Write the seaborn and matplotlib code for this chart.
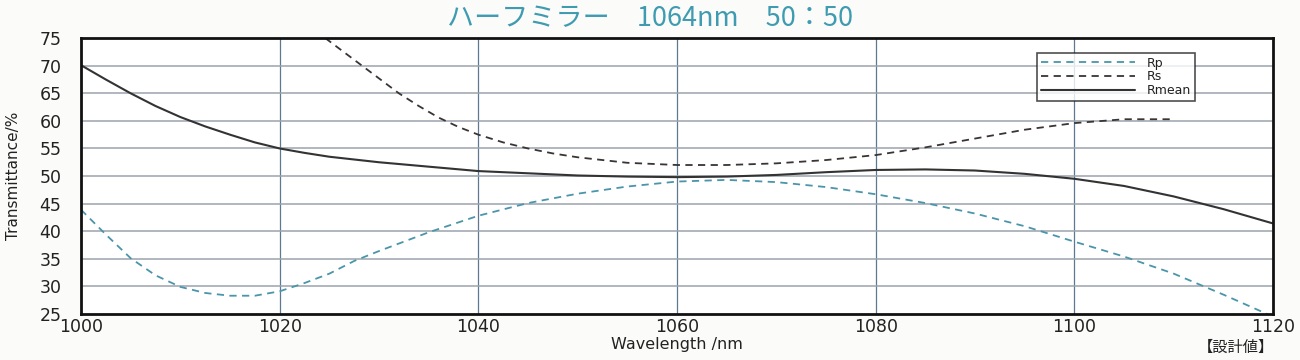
import numpy as np
import pandas as pd
import matplotlib
matplotlib.use("Agg")
import matplotlib.pyplot as plt
import seaborn as sns

# =========================
# DATA
# =========================

wavelength = [1000, 1002.5, 1005, 1007.5, 1010, 1012.5, 1015, 1017.5, 1020,
              1022.5, 1025, 1027.5, 1030, 1035, 1040, 1045, 1050, 1055,
              1060, 1065, 1070, 1075, 1080, 1085, 1090, 1095, 1100, 1105,
              1110, 1115, 1120]

rp = [43.9, 39.4, 35.1, 32.0, 29.9, 28.8, 28.3, 28.3, 29.1,
      30.6, 32.3, 34.6, 36.4, 39.8, 42.8, 45.1, 46.8, 48.1,
      49.0, 49.3, 48.9, 48.0, 46.7, 45.1, 43.2, 40.9, 38.1, 35.4,
      32.3, 28.5, 24.5]

rmean = [70.1, 67.5, 65.0, 62.7, 60.7, 59.0, 57.5, 56.1, 55.0,
         54.2, 53.5, 53.0, 52.5, 51.7, 50.9, 50.5, 50.1, 49.9,
         49.8, 49.9, 50.2, 50.7, 51.1, 51.2, 51.0, 50.4, 49.5, 48.2,
         46.3, 44.0, 41.4]

rs_wavelength = [1024.6, 1026, 1028, 1030, 1032, 1034, 1036, 1038, 1040,
                 1042.5, 1045, 1047.5, 1050, 1055, 1060, 1065, 1070, 1075,
                 1080, 1085, 1090, 1095, 1100, 1105, 1110]
rs = [75.0, 73.1, 70.4, 67.7, 65.0, 62.7, 60.6, 58.9, 57.5,
      56.1, 55.0, 54.1, 53.4, 52.4, 52.0, 52.0, 52.3, 52.9,
      53.8, 55.2, 56.8, 58.4, 59.6, 60.3, 60.3]

x_ticks = [1000, 1020, 1040, 1060, 1080, 1100, 1120]
y_ticks = [25, 30, 35, 40, 45, 50, 55, 60, 65, 70, 75]

title = "ハーフミラー　1064nm　50：50"
note = "【設計値】"

TEAL = "#3f9bb0"
DARK = "#333333"

# =========================
# STYLE
# =========================

sns.set_theme(style="white")
plt.rcParams["font.family"] = ["DejaVu Sans", "Noto Sans CJK JP"]

fig = plt.figure(figsize=(13, 3.6), dpi=100)
ax = fig.add_axes([0.0623, 0.128, 0.9170, 0.766])

# =========================
# LINES
# =========================

sns.lineplot(x=wavelength, y=rp, ax=ax, color="#4a95aa", lw=1.3,
             linestyle=(0, (4, 3)), label="Rp")
sns.lineplot(x=rs_wavelength, y=rs, ax=ax, color="#3a3434", lw=1.3,
             linestyle=(0, (4, 3)), label="Rs")
sns.lineplot(x=wavelength, y=rmean, ax=ax, color=DARK, lw=1.5,
             label="Rmean")

# =========================
# AXES / GRID
# =========================

ax.set_xlim(1000, 1120)
ax.set_ylim(25, 75)
ax.set_xticks(x_ticks)
ax.set_yticks(y_ticks)
ax.tick_params(length=0, labelsize=12.5, colors="#222222")
ax.tick_params(axis="y", pad=14)
ax.tick_params(axis="x", pad=3)

for xv in x_ticks[1:-1]:
    ax.axvline(xv, color="#5d7890", lw=0.9, zorder=0)
for yv in y_ticks[1:-1]:
    ax.axhline(yv, color="#9aa3ad", lw=1.1, zorder=0)

for s in ax.spines.values():
    s.set_color("#111111")
    s.set_linewidth(2)

ax.set_xlabel("Wavelength /nm", fontsize=11.5, color="#222222", labelpad=1)
ax.set_ylabel("Transmittance/%", fontsize=11, color="#222222", labelpad=13)

leg = ax.legend(loc="upper left", bbox_to_anchor=(0.802, 0.946),
                fontsize=9, frameon=True, fancybox=False,
                handlelength=7.5, handletextpad=1.0, labelspacing=0.05,
                borderpad=0.3, borderaxespad=0)
leg.get_frame().set_edgecolor("#222222")
leg.get_frame().set_linewidth(1.2)
for t in leg.get_texts():
    t.set_color("#222222")

fig.text(0.5, 0.948, title, ha="center", va="center", fontsize=19.5,
         color=TEAL, family=["Noto Sans CJK JP", "DejaVu Sans"])
fig.text(0.951, 0.036, note, ha="center", va="center", fontsize=11,
         color="#222222", family=["Noto Sans CJK JP", "DejaVu Sans"])

fig.savefig("out.png", dpi=100, facecolor="#fbfbfa")
